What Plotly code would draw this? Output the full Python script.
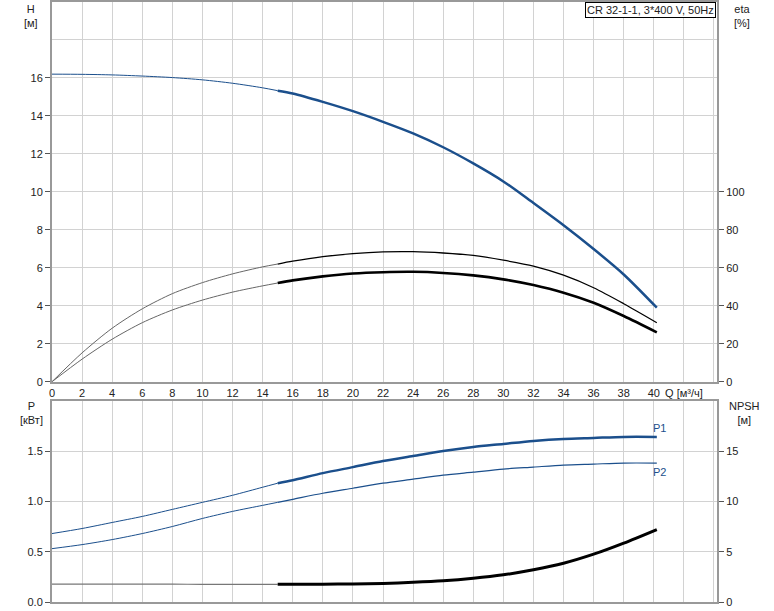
import plotly.graph_objects as go

# ---- data ----
Q = [0, 2, 4, 6, 8, 10, 12, 14, 15, 16, 18, 20, 22, 24, 26, 28, 30, 32, 34, 36, 38, 40.2]
H = [16.2, 16.19, 16.16, 16.1, 16.02, 15.9, 15.72, 15.48, 15.33, 15.18, 14.74, 14.25,
     13.69, 13.08, 12.35, 11.5, 10.55, 9.41, 8.24, 6.99, 5.65, 3.9]
ETA_A = [0, 15.2, 28.2, 38.4, 46.4, 52.2, 56.8, 60.5, 62.0, 63.5, 65.9, 67.5,
         68.4, 68.5, 67.8, 66.5, 64.0, 60.9, 56.1, 49.5, 41.1, 31.1]
ETA_B = [0, 11.9, 22.4, 31.1, 37.8, 43.0, 47.2, 50.5, 52.0, 53.4, 55.5, 57.0,
         57.7, 57.9, 57.3, 56.0, 53.9, 50.9, 46.9, 41.6, 34.6, 26.0]
P1 = [0.68, 0.73, 0.79, 0.85, 0.92, 0.99, 1.06, 1.14, 1.18, 1.21, 1.28, 1.34,
      1.40, 1.45, 1.50, 1.54, 1.57, 1.60, 1.62, 1.63, 1.64, 1.64]
P2 = [0.53, 0.57, 0.62, 0.68, 0.75, 0.83, 0.90, 0.96, 0.99, 1.02, 1.08, 1.13,
      1.18, 1.22, 1.26, 1.29, 1.32, 1.34, 1.36, 1.37, 1.38, 1.38]
NPSH = [1.78, 1.78, 1.77, 1.77, 1.77, 1.76, 1.76, 1.76, 1.76, 1.76, 1.77, 1.8,
        1.85, 1.95, 2.1, 2.35, 2.7, 3.2, 3.85, 4.75, 5.85, 7.2]
Q_SPLIT = 15
X_TICKS = list(range(0, 46, 2))
X_TEXT = [str(v) for v in range(0, 42, 2)] + ["Q [м³/ч]", ""]
TITLE = "CR 32-1-1, 3*400 V, 50Hz"

BLUE = "#1b4f8c"
FONT = "Liberation Sans, Arial, sans-serif"
GRID = "#d2d2d2"
AXC = "#999999"

i0 = Q.index(Q_SPLIT)


def seg(y):
    return (Q[:i0 + 1], y[:i0 + 1]), (Q[i0:], y[i0:])


fig = go.Figure()


def add(y, xa, ya, c_thin, w_thin, c_thick, w_thick):
    (qa, ya_), (qb, yb) = seg(y)
    fig.add_trace(go.Scatter(x=qa, y=ya_, xaxis=xa, yaxis=ya, mode="lines",
                             line=dict(color=c_thin, width=w_thin, shape="spline", smoothing=0.8),
                             showlegend=False, hoverinfo="skip"))
    fig.add_trace(go.Scatter(x=qb, y=yb, xaxis=xa, yaxis=ya, mode="lines",
                             line=dict(color=c_thick, width=w_thick, shape="spline", smoothing=0.8),
                             showlegend=False, hoverinfo="skip"))


add(H, "x", "y", BLUE, 1, BLUE, 2.5)
add(ETA_A, "x", "y2", "#666666", 1, "#000000", 1.3)
add(ETA_B, "x", "y2", "#666666", 1, "#000000", 2.6)
add(P1, "x2", "y3", BLUE, 1, BLUE, 2.5)
add(P2, "x2", "y3", BLUE, 1, BLUE, 1.2)
add(NPSH, "x2", "y4", "#777777", 1.2, "#000000", 3)

top_dom = [(602 - 381) / 602, 1.0]
bot_dom = [0.0, (602 - 400) / 602]
xrange_ = [0, 44.2]

tickfont = dict(family=FONT, size=11, color="#222222")

fig.update_layout(
    width=774, height=611,
    margin=dict(l=52, r=57, t=0, b=9),
    paper_bgcolor="white", plot_bgcolor="white",
    font=dict(family=FONT, size=11, color="#222222"),
    xaxis=dict(domain=[0, 1], anchor="y", range=xrange_, tickvals=X_TICKS, ticktext=X_TEXT,
               showgrid=True, gridcolor=GRID, gridwidth=1, zeroline=False,
               showline=True, linecolor=AXC, linewidth=2, mirror=True, ticks="",
               tickfont=tickfont),
    yaxis=dict(domain=top_dom, anchor="x", range=[0, 20], tickvals=list(range(0, 18, 2)),
               showgrid=True, gridcolor=GRID, zeroline=False, showline=True,
               linecolor=AXC, linewidth=2, ticks="outside", ticklen=5, tickcolor="#555",
               tickfont=tickfont,
               minor=dict(tickvals=[18], showgrid=True, gridcolor=GRID, ticks="")),
    yaxis2=dict(overlaying="y", side="right", anchor="x", range=[0, 200],
                tickvals=list(range(0, 120, 20)), showgrid=False, zeroline=False,
                showline=True, linecolor=AXC, linewidth=2, ticks="outside", ticklen=5,
                tickcolor="#555", tickfont=tickfont),
    xaxis2=dict(domain=[0, 1], anchor="y3", range=xrange_, tickvals=X_TICKS,
                showticklabels=False, showgrid=True, gridcolor=GRID, zeroline=False,
                showline=True, linecolor=AXC, linewidth=2, mirror=True, ticks=""),
    yaxis3=dict(domain=bot_dom, anchor="x2", range=[0, 2], tickvals=[0, 0.5, 1.0, 1.5],
                tickformat=".1f", showgrid=True, gridcolor=GRID, zeroline=False,
                showline=True, linecolor=AXC, linewidth=2, ticks="outside", ticklen=5,
                tickcolor="#555", tickfont=tickfont),
    yaxis4=dict(overlaying="y3", side="right", anchor="x2", range=[0, 20],
                tickvals=[0, 5, 10, 15], showgrid=False, zeroline=False,
                showline=True, linecolor=AXC, linewidth=2, ticks="outside", ticklen=5,
                tickcolor="#555", tickfont=tickfont),
)


def px_x(px):
    return (px - 52) / 665.0


def px_y(py):
    return (602 - py) / 602.0


ann = [
    dict(text="H<br>[м]", x=px_x(31), y=px_y(-1)),
    dict(text="eta<br>[%]", x=px_x(742), y=px_y(-1)),
    dict(text="P<br>[кВт]", x=px_x(31), y=px_y(397)),
    dict(text="NPSH<br>[м]", x=px_x(745), y=px_y(397)),
]
for a in ann:
    fig.add_annotation(xref="paper", yref="paper", xanchor="center", yanchor="top",
                       showarrow=False, font=dict(family=FONT, size=11, color="#222222"),
                       **a)

fig.add_annotation(xref="paper", yref="paper", x=px_x(716), y=px_y(0), xanchor="right",
                   yanchor="top", showarrow=False, text=TITLE, bgcolor="white",
                   bordercolor="#000000", borderwidth=1, borderpad=1,
                   font=dict(family=FONT, size=11, color="#222222"))

fig.add_annotation(xref="x2", yref="y3", x=Q[-1] + 0.2, y=P1[-1], text="P1",
                   showarrow=False, xanchor="center", yanchor="bottom", yshift=1,
                   font=dict(family=FONT, size=11, color=BLUE))
fig.add_annotation(xref="x2", yref="y3", x=Q[-1] + 0.2, y=P2[-1], text="P2",
                   showarrow=False, xanchor="center", yanchor="top", yshift=-1,
                   font=dict(family=FONT, size=11, color=BLUE))

fig.write_html("out.html", config={"displayModeBar": False},
               post_script="document.body.style.margin='0';document.body.style.overflow='hidden';")
